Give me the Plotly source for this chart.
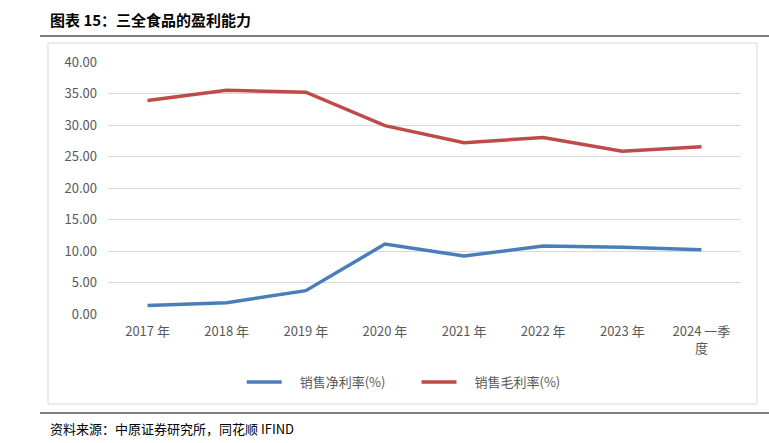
import plotly.graph_objects as go

categories = ["2017 年", "2018 年", "2019 年", "2020 年", "2021 年", "2022 年", "2023 年", "2024 一季<br>度"]
net_margin = [1.35, 1.8, 3.7, 11.1, 9.2, 10.8, 10.6, 10.2]
gross_margin = [33.9, 35.5, 35.2, 29.9, 27.2, 28.0, 25.85, 26.55]
y_ticks = [0, 5, 10, 15, 20, 25, 30, 35, 40]
series_names = ["销售净利率(%)", "销售毛利率(%)"]

W, H = 769, 443
L, R, T, B = 108, 741, 62, 314

def px(x):
    return (x - L) / (R - L)

def py(y):
    return (B - y) / (B - T)

FONT = "Noto Sans CJK SC"

fig = go.Figure()
fig.add_trace(go.Scatter(x=categories, y=net_margin, mode="lines",
                         name="\u2003" + series_names[0] + "\u2003\u2003",
                         line=dict(color="#4A7EBB", width=3.5)))
fig.add_trace(go.Scatter(x=categories, y=gross_margin, mode="lines",
                         name="\u2003" + series_names[1],
                         line=dict(color="#BE4B48", width=3.5)))

fig.update_layout(
    width=W, height=H,
    margin=dict(l=L, r=W - R, t=T, b=H - B, autoexpand=False),
    paper_bgcolor="white", plot_bgcolor="white",
    font=dict(family=FONT, size=12, color="#595959"),
    showlegend=True,
    legend=dict(orientation="h", xref="container", yref="container", x=0.525, y=1 - 382 / H,
                xanchor="center", yanchor="middle", font=dict(size=13, color="#595959"),
                itemwidth=35, tracegroupgap=0),
    xaxis=dict(type="category", range=[-0.5, len(categories) - 0.5], showgrid=False,
               zeroline=False, showline=False, ticks="", ticklabelstandoff=8,
               tickfont=dict(size=13, color="#595959")),
    yaxis=dict(range=[0, 40], tickvals=y_ticks, tickformat=".2f", showgrid=True,
               gridcolor="#D9D9D9", gridwidth=1, zeroline=False, showline=False,
               ticks="", ticklabelstandoff=10, tickfont=dict(size=13, color="#595959")),
)

shapes = [
    dict(type="line", xref="paper", yref="paper", x0=px(40), x1=px(769), y0=py(36), y1=py(36),
         line=dict(color="#000000", width=1.2)),
    dict(type="rect", xref="paper", yref="paper", x0=px(48), x1=px(757), y0=py(43), y1=py(404),
         line=dict(color="#D9D9D9", width=1), fillcolor="rgba(0,0,0,0)", layer="below"),
    dict(type="line", xref="paper", yref="paper", x0=px(40), x1=px(769), y0=py(413), y1=py(413),
         line=dict(color="#000000", width=1.2)),
]
fig.update_layout(shapes=shapes)

fig.add_annotation(text="<b>图表 15：三全食品的盈利能力</b>", xref="paper", yref="paper",
                   x=px(48), y=py(20), xanchor="left", yanchor="middle", showarrow=False,
                   font=dict(family=FONT, size=15, color="#000000"))
fig.add_annotation(text="资料来源：中原证券研究所，同花顺 IFIND", xref="paper", yref="paper",
                   x=px(48), y=py(428), xanchor="left", yanchor="middle", showarrow=False,
                   font=dict(family=FONT, size=13, color="#000000"))

fig.write_html("out.html", config={"displayModeBar": False},
               post_script="document.body.style.margin='0px';document.body.style.padding='0px';")
